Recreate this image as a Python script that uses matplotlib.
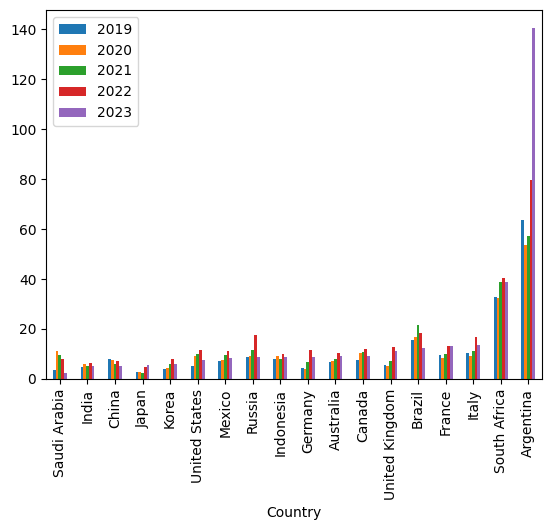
import matplotlib
matplotlib.use("Agg")
import matplotlib.pyplot as plt
import pandas as pd

countries = ["Saudi Arabia", "India", "China", "Japan", "Korea", "United States",
             "Mexico", "Russia", "Indonesia", "Germany", "Australia", "Canada",
             "United Kingdom", "Brazil", "France", "Italy", "South Africa", "Argentina"]
y2019 = [3.6, 4.8, 8.0, 2.8, 4.0, 5.2, 7.2, 8.8, 8.0, 4.4, 6.8, 7.6, 5.6, 15.6, 9.6, 10.4, 32.8, 63.6]
y2020 = [11.2, 6.0, 7.6, 2.8, 4.4, 9.2, 7.6, 9.2, 9.2, 4.0, 7.2, 10.4, 5.2, 16.8, 8.4, 9.2, 32.4, 53.6]
y2021 = [9.6, 5.2, 6.0, 2.4, 6.0, 10.0, 9.6, 11.6, 8.0, 6.8, 8.0, 10.8, 7.2, 21.6, 10.0, 11.2, 38.8, 57.2]
y2022 = [8.0, 6.4, 7.2, 4.8, 8.0, 11.6, 11.2, 17.6, 10.0, 11.6, 10.4, 12.0, 12.8, 18.4, 13.2, 16.8, 40.4, 79.6]
y2023 = [2.4, 5.2, 5.2, 5.6, 6.0, 7.6, 8.4, 8.8, 8.8, 8.8, 9.2, 9.2, 11.2, 12.4, 13.2, 13.6, 38.8, 140.6]

df = pd.DataFrame({"2019": y2019, "2020": y2020, "2021": y2021,
                   "2022": y2022, "2023": y2023},
                  index=pd.Index(countries, name="Country"))

fig, ax = plt.subplots(figsize=(5.52, 5.30), dpi=100)
fig.subplots_adjust(left=0.0835, right=0.982, top=0.981, bottom=0.285)
df.plot.bar(ax=ax)
fig.savefig("out.png", dpi=100)
